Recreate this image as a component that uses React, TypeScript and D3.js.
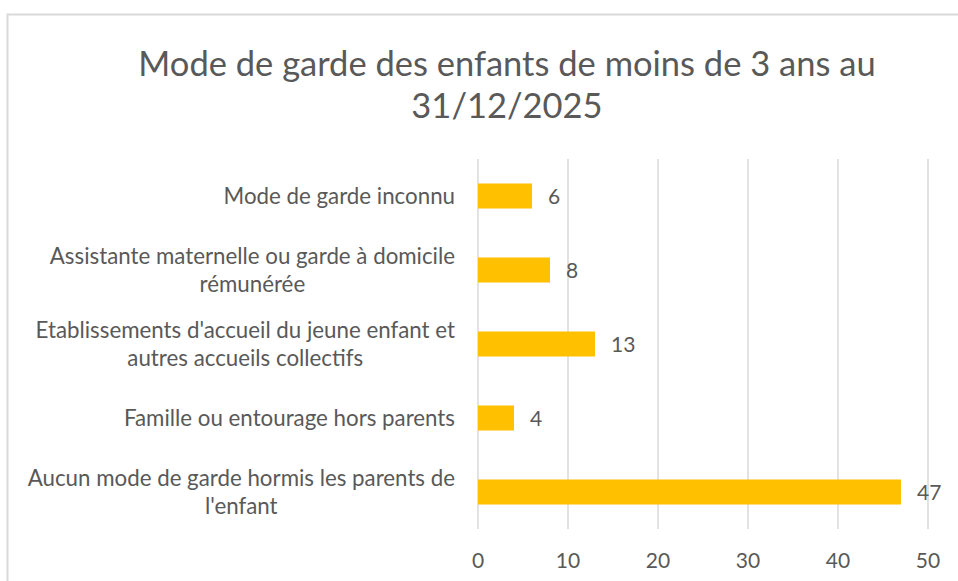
import React, { useEffect, useRef } from "react";
import * as d3 from "d3";

const categories: string[][] = [
  ["Mode de garde inconnu"],
  ["Assistante maternelle ou garde à domicile", "rémunérée"],
  ["Etablissements d'accueil du jeune enfant et", "autres accueils collectifs"],
  ["Famille ou entourage hors parents"],
  ["Aucun mode de garde hormis les parents de", "l'enfant"],
];
const values: number[] = [6, 8, 13, 4, 47];
const xTicks: number[] = [0, 10, 20, 30, 40, 50];
const titleLines: string[] = [
  "Mode de garde des enfants de moins de 3 ans au",
  "31/12/2025",
];

const W = 958;
const H = 581;
const FONT = "Lato, 'Noto Sans', sans-serif";
const TEXT = "#595959";
const GRID = "#D9D9D9";
const BAR = "#FFC000";

export default function App() {
  const ref = useRef<SVGSVGElement | null>(null);

  useEffect(() => {
    const svg = d3.select(ref.current);
    svg.selectAll("*").remove();

    const left = 478;
    const right = 928;
    const top = 159;
    const bottom = 529;

    const x = d3.scaleLinear().domain([0, 50]).range([left, right]);
    const keys = categories.map((_, i) => String(i));
    const y = d3
      .scaleBand<string>()
      .domain(keys)
      .range([top, bottom])
      .paddingInner(0.662)
      .paddingOuter(0.331);

    svg
      .append("rect")
      .attr("x", 7.5)
      .attr("y", 14.5)
      .attr("width", 1200)
      .attr("height", 1200)
      .attr("fill", "#fff")
      .attr("stroke", GRID)
      .attr("stroke-width", 2);

    // title
    const title = svg
      .append("text")
      .attr("font-family", FONT)
      .attr("font-size", 34.5)
      .attr("fill", TEXT)
      .attr("text-anchor", "middle");
    titleLines.forEach((l, i) => {
      title
        .append("tspan")
        .attr("x", 507)
        .attr("y", 76 + i * 42)
        .text(l);
    });

    // grid
    svg
      .append("g")
      .selectAll("line")
      .data(xTicks)
      .join("line")
      .attr("x1", (d) => x(d))
      .attr("x2", (d) => x(d))
      .attr("y1", top)
      .attr("y2", bottom)
      .attr("stroke", GRID)
      .attr("stroke-width", 1.5);

    // tick labels
    svg
      .append("g")
      .selectAll("text")
      .data(xTicks)
      .join("text")
      .attr("x", (d) => x(d))
      .attr("y", 568)
      .attr("text-anchor", "middle")
      .attr("font-family", FONT)
      .attr("font-size", 21)
      .attr("fill", TEXT)
      .text((d) => String(d));

    // bars
    svg
      .append("g")
      .selectAll("rect")
      .data(values)
      .join("rect")
      .attr("x", x(0))
      .attr("y", (_, i) => y(String(i))!)
      .attr("width", (d) => x(d) - x(0))
      .attr("height", y.bandwidth())
      .attr("fill", BAR);

    // value labels
    svg
      .append("g")
      .selectAll("text")
      .data(values)
      .join("text")
      .attr("x", (d) => x(d) + 16)
      .attr("y", (_, i) => y(String(i))! + y.bandwidth() / 2)
      .attr("dy", "0.36em")
      .attr("font-family", FONT)
      .attr("font-size", 21)
      .attr("fill", TEXT)
      .text((d) => String(d));

    // category labels
    const labelRight = 455;
    const lineH = 28;
    const cg = svg.append("g");
    categories.forEach((lines, i) => {
      const cy = y(String(i))! + y.bandwidth() / 2;
      const t = cg
        .append("text")
        .attr("font-family", FONT)
        .attr("font-size", 22.3)
        .attr("fill", TEXT)
        .attr("text-anchor", "middle");
      const spans = lines.map((l, j) =>
        t
          .append("tspan")
          .attr("y", cy + (j - (lines.length - 1) / 2) * lineH)
          .attr("dy", "0.36em")
          .text(l)
      );
      const widths = spans.map((s) => (s.node() as SVGTSpanElement).getComputedTextLength());
      const maxW = Math.max(...widths);
      spans.forEach((s) => s.attr("x", labelRight - maxW / 2));
    });
  }, []);

  return (
    <svg
      ref={ref}
      width={W}
      height={H}
      style={{ position: "absolute", left: 0, top: 0, background: "#fff" }}
    />
  );
}
